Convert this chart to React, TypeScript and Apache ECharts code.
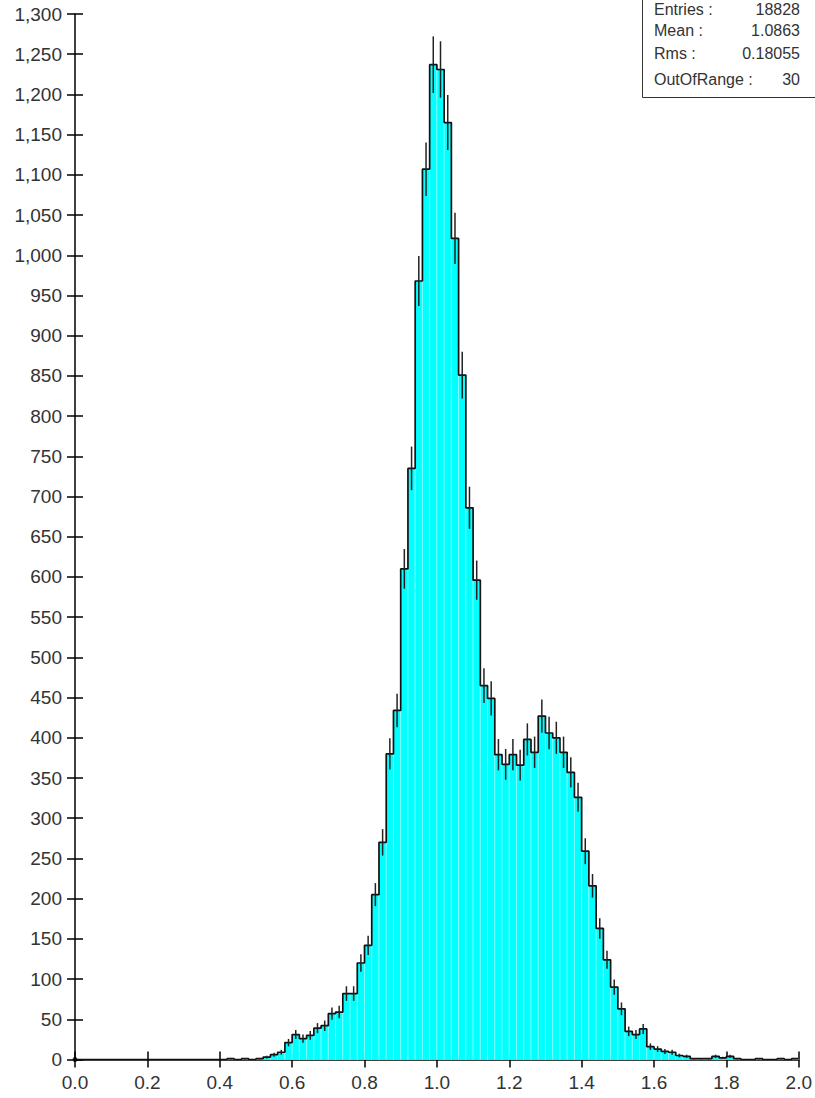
import React, { useEffect, useRef } from "react";
import * as echarts from "echarts";

// Histogram: 100 bins of width 0.02 from 0.0 to 2.0
const binLow = 0;
const binWidth = 0.02;
const counts = [
  // 0.00 - 0.40
  0, 0, 0, 0, 0, 0, 0, 0, 0, 0, 0, 0, 0, 0, 0, 0, 0, 0, 0, 0,
  // 0.40 - 0.80
  0, 1, 0, 1, 0, 1, 3, 6, 9, 21, 31, 26, 30, 39, 42, 57, 59, 82, 82, 120,
  // 0.80 - 1.20
  142, 205, 270, 380, 434, 610, 735, 968, 1107, 1237, 1231, 1165, 1021, 851, 686, 596, 465, 449, 379, 367,
  // 1.20 - 1.60
  379, 366, 398, 382, 427, 406, 400, 382, 357, 326, 259, 216, 163, 124, 90, 63, 35, 31, 38, 16,
  // 1.60 - 2.00
  13, 10, 9, 5, 4, 1, 1, 1, 4, 2, 4, 1, 0, 0, 1, 0, 0, 1, 0, 1,
];

const xTickValues = [0, 0.2, 0.4, 0.6, 0.8, 1.0, 1.2, 1.4, 1.6, 1.8, 2.0];
const yTickStep = 50;
const yMax = 1300;

// Statistics box rows: label on the left, value right-aligned
const statLabels = ["Entries :", "Mean :", "Rms :", "OutOfRange :"];
const statValues = ["18828", "1.0863", "0.18055", "30"];

const xMin = xTickValues[0];
const xMax = xTickValues[xTickValues.length - 1];

function withCommas(v: number): string {
  const s = String(Math.round(v));
  return s.replace(/\B(?=(\d{3})+(?!\d))/g, ",");
}

export default function App() {
  const ref = useRef<HTMLDivElement>(null);

  useEffect(() => {
    if (!ref.current) return;
    const chart = echarts.init(ref.current, undefined, { renderer: "svg" });

    const bins = counts.map((c, i) => {
      const x0 = binLow + i * binWidth;
      return [x0, x0 + binWidth, c];
    });
    const stepPoints: number[][] = counts.map((c, i) => [binLow + i * binWidth, c]);
    stepPoints.push([binLow + counts.length * binWidth, counts[counts.length - 1]]);
    const errors = counts.map((c, i) => [binLow + (i + 0.5) * binWidth, c]);

    const font = "'Liberation Sans', Arial, sans-serif";
    const labelColor = "#333";
    const tickLen = 8;

    const statTexts: any[] = [];
    const rowTop = [1, 22, 45, 71];
    statLabels.forEach((lab, i) => {
      statTexts.push({
        type: "text",
        left: 654,
        top: rowTop[i],
        style: { text: lab, fill: labelColor, font: `16px ${font}` },
      });
      statTexts.push({
        type: "text",
        right: 15,
        top: rowTop[i],
        style: { text: statValues[i], fill: labelColor, font: `16px ${font}` },
      });
    });

    chart.setOption({
      animation: false,
      backgroundColor: "#fff",
      grid: { left: 75, right: 15, top: 14, bottom: 38.5, containLabel: false },
      xAxis: [
        {
          type: "value",
          position: "bottom",
          min: xMin,
          max: xMax,
          interval: 0.2,
          splitLine: { show: false },
          axisLine: { onZero: false, lineStyle: { color: "#000", width: 1.5 } },
          axisTick: { show: true, inside: false, length: tickLen, lineStyle: { color: "#000", width: 1.5 } },
          axisLabel: {
            fontSize: 19,
            fontFamily: font,
            color: labelColor,
            margin: 13,
            formatter: (v: number) => v.toFixed(1),
          },
        },
        {
          type: "value",
          position: "bottom",
          min: xMin,
          max: xMax,
          interval: 0.2,
          splitLine: { show: false },
          axisLine: { show: false, onZero: false },
          axisTick: { show: true, inside: true, length: tickLen, lineStyle: { color: "#000", width: 1.5 } },
          axisLabel: { show: false },
        },
      ],
      yAxis: [
        {
          type: "value",
          position: "left",
          min: 0,
          max: yMax,
          interval: yTickStep,
          splitLine: { show: false },
          axisLine: { show: true, onZero: false, lineStyle: { color: "#000", width: 1.5 } },
          axisTick: { show: true, inside: false, length: tickLen, lineStyle: { color: "#000", width: 1.5 } },
          axisLabel: {
            fontSize: 19,
            fontFamily: font,
            color: labelColor,
            margin: 13,
            formatter: (v: number) => withCommas(v),
          },
        },
        {
          type: "value",
          position: "left",
          min: 0,
          max: yMax,
          interval: yTickStep,
          splitLine: { show: false },
          axisLine: { show: false, onZero: false },
          axisTick: { show: true, inside: true, length: tickLen, lineStyle: { color: "#000", width: 1.5 } },
          axisLabel: { show: false },
        },
      ],
      series: [
        {
          type: "custom",
          name: "fill",
          xAxisIndex: 0,
          yAxisIndex: 0,
          data: bins,
          silent: true,
          renderItem: (params: any, api: any) => {
            const c = api.value(2);
            if (!c) return null;
            const p0 = api.coord([api.value(0), c]);
            const p1 = api.coord([api.value(1), 0]);
            return {
              type: "rect",
              shape: { x: p0[0], y: p0[1], width: p1[0] - p0[0], height: p1[1] - p0[1] },
              style: { fill: "#00ffff", stroke: "#b8ffff", lineWidth: 0.5 },
            };
          },
          z: 1,
        },
        {
          type: "line",
          name: "outline",
          xAxisIndex: 0,
          yAxisIndex: 0,
          data: stepPoints,
          step: "end",
          symbol: "none",
          lineStyle: { color: "#111", width: 1.7 },
          silent: true,
          z: 3,
        },
        {
          type: "custom",
          name: "errors",
          xAxisIndex: 0,
          yAxisIndex: 0,
          data: errors,
          silent: true,
          renderItem: (params: any, api: any) => {
            const c = api.value(1);
            if (!c) return null;
            const e = Math.sqrt(c);
            const top = api.coord([api.value(0), c + e]);
            const bot = api.coord([api.value(0), Math.max(0, c - e)]);
            return {
              type: "line",
              shape: { x1: top[0], y1: top[1], x2: bot[0], y2: bot[1] },
              style: { stroke: "#222", lineWidth: 1.5 },
            };
          },
          z: 4,
        },
        {
          type: "scatter",
          name: "origin",
          xAxisIndex: 0,
          yAxisIndex: 0,
          data: [[xMin, 0]],
          symbolSize: 5,
          itemStyle: { color: "#000" },
          silent: true,
          z: 5,
        },
      ],
      graphic: [
        {
          type: "rect",
          left: 642,
          top: -2,
          shape: { width: 200, height: 99 },
          style: { fill: "#fff", stroke: "#333", lineWidth: 1 },
          z: 10,
        },
        ...statTexts.map((t) => ({ ...t, z: 11 })),
      ],
    });

    return () => {
      chart.dispose();
    };
  }, []);

  return (
    <div
      ref={ref}
      style={{ position: "fixed", left: 0, top: 0, width: 815, height: 1098, background: "#fff" }}
    />
  );
}
